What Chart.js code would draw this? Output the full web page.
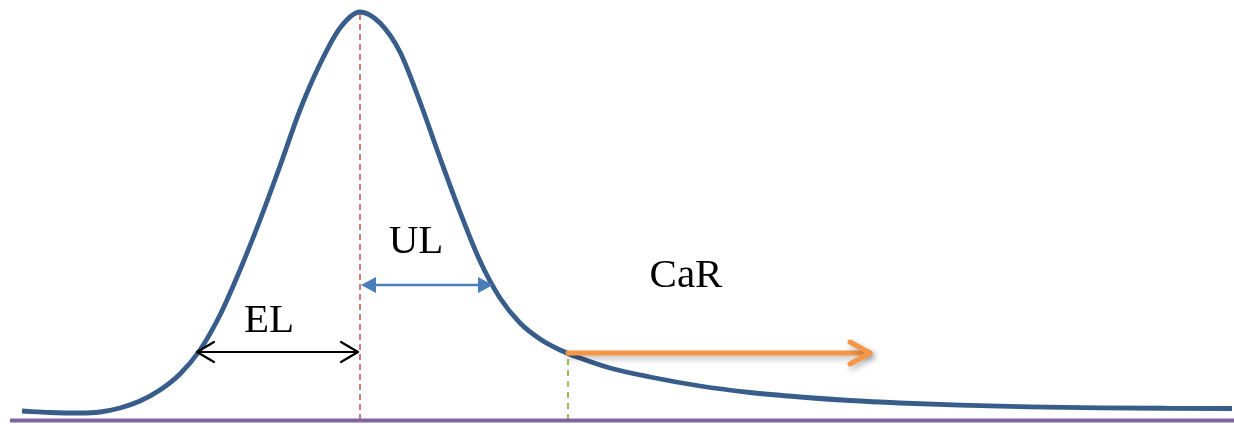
<!DOCTYPE html>
<html>
<head>
<meta charset="utf-8">
<script src="https://cdn.jsdelivr.net/npm/chart.js@4.4.0/dist/chart.umd.min.js"></script>
<style>
  body { margin: 0; background: #fff; }
</style>
</head>
<body>
<canvas id="myChart" width="1234" height="424"></canvas>
<script>
// loss distribution curve (x along the axis, y = height above the baseline)
const curveX = [22, 50, 80, 100, 120, 140, 160, 180, 200, 220, 240, 260, 280, 300, 320, 340, 360, 380, 400, 420, 440, 460, 480, 500, 520, 540, 560, 580, 610, 650, 700, 750, 800, 850, 900, 960, 1030, 1100, 1170, 1232]
const curveY = [9, 7.5, 7, 8, 12, 19, 30, 46, 70, 105, 150, 200, 254, 310, 356, 392, 408, 397, 368, 318, 262, 208, 159, 122, 97, 81, 70, 62, 52, 43, 34, 27.5, 23, 19.5, 17, 14.8, 13.2, 12.2, 11.7, 11.5]

const baseX = [10, 1234]
const baseY = [-0.5, -0.5]

const meanX = 360
const meanTop = 408
const carX = 568
const carTop = 66

// arrows: [from, to, height]
const elArrow = [197, 358, 68]
const ulArrow = [361, 493, 135]
const carArrow = [568, 870, 67]

const labels = ["EL", "UL", "CaR"]
const labelX = [269, 416, 686]
const labelY = [88, 167, 133]

const pts = (xs, ys) => xs.map((x, i) => ({ x: x, y: ys[i] }))

const drawArrow = (ctx, x1, x2, y, color, width, head, both) => {
  ctx.save()
  ctx.strokeStyle = color
  ctx.fillStyle = color
  ctx.lineWidth = width
  ctx.lineCap = "round"
  ctx.lineJoin = "round"
  const heads = both ? [[x1, 1], [x2, -1]] : [[x2, -1]]
  const len = head.len
  const half = head.half
  let sx = x1
  let ex = x2
  if (head.filled) {
    if (both) sx = x1 + len * 0.8
    ex = x2 - len * 0.8
  }
  ctx.beginPath()
  ctx.moveTo(sx, y)
  ctx.lineTo(ex, y)
  ctx.stroke()
  heads.forEach(([hx, dir]) => {
    ctx.beginPath()
    ctx.moveTo(hx + dir * len, y - half)
    ctx.lineTo(hx, y)
    ctx.lineTo(hx + dir * len, y + half)
    if (head.filled) {
      ctx.closePath()
      ctx.fill()
    } else {
      ctx.stroke()
    }
  })
  ctx.restore()
}

const annotations = {
  id: "annotations",
  afterDatasetsDraw(chart) {
    const ctx = chart.ctx
    const xs = chart.scales.x
    const ys = chart.scales.y
    const px = (v) => xs.getPixelForValue(v)
    const py = (v) => ys.getPixelForValue(v)

    drawArrow(ctx, px(elArrow[0]), px(elArrow[1]), py(elArrow[2]), "#000000", 2.2, { len: 17, half: 10, filled: false }, true)
    drawArrow(ctx, px(ulArrow[0]), px(ulArrow[1]), py(ulArrow[2]), "#4a7ebb", 2.5, { len: 15, half: 8, filled: true }, true)

    ctx.save()
    ctx.shadowColor = "rgba(0,0,0,0.3)"
    ctx.shadowBlur = 6
    ctx.shadowOffsetX = 2
    ctx.shadowOffsetY = 3
    drawArrow(ctx, px(carArrow[0]), px(carArrow[1]), py(carArrow[2]), "#f79646", 5, { len: 20, half: 11, filled: false }, false)
    ctx.restore()

    ctx.save()
    ctx.fillStyle = "#000000"
    ctx.font = "41px 'Liberation Serif', 'DejaVu Serif', serif"
    ctx.textAlign = "center"
    ctx.textBaseline = "alphabetic"
    labels.forEach((t, i) => {
      ctx.fillText(t, px(labelX[i]), py(labelY[i]))
    })
    ctx.restore()
  },
}

const ctx = document.getElementById("myChart").getContext("2d")
new Chart(ctx, {
  type: "line",
  data: {
    datasets: [
      {
        label: "baseline",
        data: pts(baseX, baseY),
        borderColor: "#8064a2",
        borderWidth: 4,
        pointRadius: 0,
      },
      {
        label: "mean",
        data: pts([meanX, meanX], [0, meanTop]),
        borderColor: "#c0504d",
        borderWidth: 1.5,
        borderDash: [6, 4],
        pointRadius: 0,
      },
      {
        label: "car",
        data: pts([carX, carX], [0, carTop]),
        borderColor: "#9bbb59",
        borderWidth: 2,
        borderDash: [6, 5],
        pointRadius: 0,
      },
      {
        label: "loss distribution",
        data: pts(curveX, curveY),
        borderColor: "#385d8a",
        borderWidth: 4.8,
        pointRadius: 0,
        cubicInterpolationMode: "monotone",
      },
    ],
  },
  options: {
    responsive: false,
    animation: false,
    devicePixelRatio: 1,
    layout: { padding: 0 },
    clip: false,
    plugins: {
      legend: { display: false },
      tooltip: { enabled: false },
    },
    scales: {
      x: { type: "linear", min: 0, max: 1234, display: false },
      y: { type: "linear", min: -4, max: 420, display: false },
    },
  },
  plugins: [annotations],
})
</script>
</body>
</html>
